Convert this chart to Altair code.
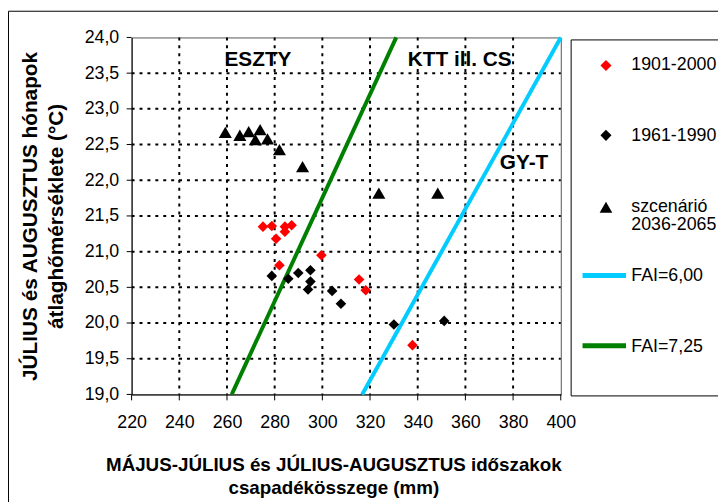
import altair as alt
import pandas as pd

# ---- data ----
red_x = [275.1, 278.8, 284.3, 287.1, 284.3, 280.6, 282.0, 299.6, 315.4, 318.2, 337.8]
red_y = [21.35, 21.36, 21.35, 21.37, 21.28, 21.18, 20.81, 20.95, 20.61, 20.46, 19.69]

black_x = [278.8, 285.7, 289.9, 295.0, 295.0, 294.0, 304.1, 307.8, 330.0, 351.1]
black_y = [20.66, 20.62, 20.70, 20.74, 20.58, 20.47, 20.45, 20.27, 19.98, 20.03]

tri_x = [259.3, 265.4, 269.1, 273.9, 271.9, 277.0, 282.0, 291.7, 323.7, 348.4]
tri_y = [22.67, 22.63, 22.68, 22.71, 22.57, 22.58, 22.43, 22.19, 21.82, 21.82]

fai6_x = [316.7, 400.0]
fai6_y = [19.0, 24.0]
fai725_x = [262.0, 331.0]
fai725_y = [19.0, 24.0]

zone_labels = ["ESZTY", "KTT ill. CS", "GY-T"]
zone_x = [273.0, 357.6, 384.6]
zone_y = [23.68, 23.68, 22.24]

x_ticks = [220, 240, 260, 280, 300, 320, 340, 360, 380, 400]
y_ticks = [19.0, 19.5, 20.0, 20.5, 21.0, 21.5, 22.0, 22.5, 23.0, 23.5, 24.0]

legend_labels = ["1901-2000", "1961-1990", ["szcenárió", "2036-2065"], "FAI=6,00", "FAI=7,25"]

x_title = ["MÁJUS-JÚLIUS és JÚLIUS-AUGUSZTUS időszakok", "csapadékösszege (mm)"]
y_title = ["JÚLIUS és AUGUSZTUS hónapok", "átlaghőmérséklete (°C)"]

FONT = "Liberation Sans"
W, H = 434, 361

x_scale = alt.Scale(domain=[220, 400], nice=False, zero=False)
y_scale = alt.Scale(domain=[19, 24], nice=False, zero=False)

x_axis = alt.Axis(values=x_ticks, title=x_title, format="d",
                  grid=False, ticks=False, tickSize=0, labelFlush=False, labelOverlap=False,
                  labelPadding=19,
                  titleX=204, titleY=77, titleAlign="center", titleBaseline="alphabetic",
                  titleLineHeight=23, titleFontSize=19)
y_axis = alt.Axis(values=y_ticks, title=y_title,
                  labelExpr="replace(format(datum.value, '.1f'), '.', ',')",
                  grid=False, ticks=False, tickSize=0, labelFlush=False, labelOverlap=False,
                  labelPadding=13,
                  titleX=-96, titleY=180.5, titleAngle=270, titleAlign="center",
                  titleBaseline="alphabetic", titleLineHeight=26, titleFontSize=21)

X = alt.X("x:Q", scale=x_scale, axis=x_axis)
Y = alt.Y("y:Q", scale=y_scale, axis=y_axis)
XV = alt.X("v:Q", scale=x_scale, axis=x_axis)
YV = alt.Y("v:Q", scale=y_scale, axis=y_axis)

red_df = pd.DataFrame({"x": red_x, "y": red_y})
black_df = pd.DataFrame({"x": black_x, "y": black_y})
tri_df = pd.DataFrame({"x": tri_x, "y": tri_y})
fai6_df = pd.DataFrame({"x": fai6_x, "y": fai6_y})
fai725_df = pd.DataFrame({"x": fai725_x, "y": fai725_y})
zone_df = pd.DataFrame({"label": zone_labels, "x": zone_x, "y": zone_y})
xt_df = pd.DataFrame({"v": x_ticks})
yt_df = pd.DataFrame({"v": y_ticks})
xg_df = pd.DataFrame({"v": x_ticks[1:-1]})
yg_df = pd.DataFrame({"v": y_ticks[1:-1]})
one = pd.DataFrame({"k": [0]})

# dotted grid and outward ticks, positioned through the scales
x_grid = alt.Chart(xg_df).mark_rule(color="black", strokeWidth=2, strokeDash=[3, 5]).encode(
    x=XV, y=alt.value(0), y2=alt.value(H))
y_grid = alt.Chart(yg_df).mark_rule(color="black", strokeWidth=2, strokeDash=[3, 5]).encode(
    y=YV, x=alt.value(0), x2=alt.value(W))
x_tk = alt.Chart(xt_df).mark_rule(color="black", strokeWidth=1).encode(
    x=XV, y=alt.value(H), y2=alt.value(H + 6))
y_tk = alt.Chart(yt_df).mark_rule(color="black", strokeWidth=1).encode(
    y=YV, x=alt.value(-5), x2=alt.value(0))

line6 = alt.Chart(fai6_df).mark_line(color="#00CCFF", strokeWidth=4).encode(x=X, y=Y)
line725 = alt.Chart(fai725_df).mark_line(color="#008000", strokeWidth=4).encode(x=X, y=Y)

red_pts = alt.Chart(red_df).mark_point(shape="diamond", filled=True, size=115,
                                       color="#FF0000", opacity=1).encode(x=X, y=Y)
black_pts = alt.Chart(black_df).mark_point(shape="diamond", filled=True, size=115,
                                           color="black", opacity=1).encode(x=X, y=Y)
tri_pts = alt.Chart(tri_df).mark_point(shape="triangle-up", filled=True, size=175,
                                       color="black", opacity=1).encode(x=X, y=Y)

zones = alt.Chart(zone_df).mark_text(font=FONT, fontSize=21, fontWeight="bold",
                                     color="black", align="center",
                                     baseline="middle").encode(x=X, y=Y, text="label:N")

# chart-area frame and legend box (decoration only)
frame = alt.Chart(one).mark_rect(fill="white", fillOpacity=0, stroke="black", strokeWidth=1).encode(
    x=alt.value(-124.5), x2=alt.value(700), y=alt.value(-26.5), y2=alt.value(700))
legend_box = alt.Chart(one).mark_rect(fill="white", fillOpacity=0, stroke="black", strokeWidth=1).encode(
    x=alt.value(444.5), x2=alt.value(700), y=alt.value(2.5), y2=alt.value(362.5))

LX_SYM = 479.7
LX_TXT = 505.3
leg = []
leg.append(alt.Chart(one).mark_point(shape="diamond", filled=True, size=125, color="#FF0000",
                                     opacity=1).encode(x=alt.value(LX_SYM), y=alt.value(28.3)))
leg.append(alt.Chart(one).mark_point(shape="diamond", filled=True, size=125, color="black",
                                     opacity=1).encode(x=alt.value(LX_SYM), y=alt.value(99)))
leg.append(alt.Chart(one).mark_point(shape="triangle-up", filled=True, size=165, color="black",
                                     opacity=1).encode(x=alt.value(LX_SYM), y=alt.value(171.7)))
leg.append(alt.Chart(one).mark_rule(color="#00CCFF", strokeWidth=5).encode(
    x=alt.value(456), x2=alt.value(500), y=alt.value(240.7)))
leg.append(alt.Chart(one).mark_rule(color="#008000", strokeWidth=5).encode(
    x=alt.value(456), x2=alt.value(500), y=alt.value(311.7)))
leg_text_y = [33.3, 105, 176.7, 246.7, 318.3]
for lab, ty in zip(legend_labels, leg_text_y):
    leg.append(alt.Chart(one).mark_text(text=lab, font=FONT, fontSize=18, color="black",
                                        align="left", baseline="alphabetic",
                                        lineHeight=18.5).encode(
        x=alt.value(LX_TXT), y=alt.value(ty)))

chart = alt.layer(
    frame, legend_box, x_grid, y_grid, x_tk, y_tk,
    line6, line725, red_pts, black_pts, tri_pts, zones, *leg
).properties(
    width=W, height=H, autosize="none",
    padding={"left": 125, "top": 27, "right": 159, "bottom": 106},
    background="white",
).configure_view(
    stroke="#555", strokeWidth=1
).configure_axis(
    domainColor="black", domainWidth=1,
    labelFont=FONT, labelFontSize=18, labelColor="black",
    titleFont=FONT, titleFontWeight="bold", titleColor="black",
)

chart.save("out.html", embed_options={"renderer": "svg", "actions": False})
